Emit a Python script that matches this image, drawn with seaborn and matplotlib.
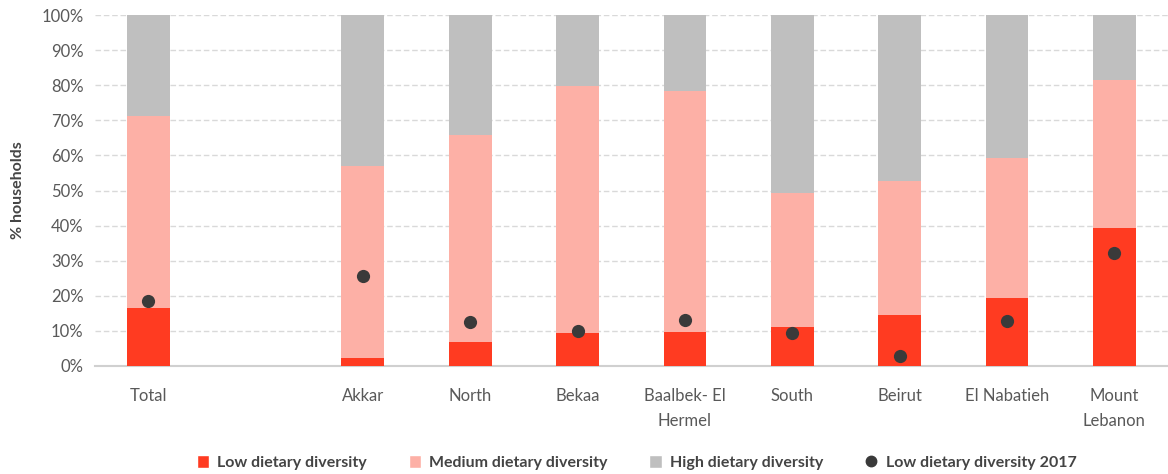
import numpy as np
import pandas as pd
import matplotlib
matplotlib.use("Agg")
import matplotlib.pyplot as plt
from matplotlib.patches import Patch
from matplotlib.lines import Line2D
from matplotlib.ticker import PercentFormatter
import seaborn as sns

# data
regions = ["Total", " ", "Akkar", "North", "Bekaa", "Baalbek- El\nHermel", "South",
           "Beirut", "El Nabatieh", "Mount\nLebanon"]
low = [16.5, np.nan, 2.4, 6.8, 9.5, 9.8, 11.2, 14.4, 19.3, 39.2]
medium = [54.8, np.nan, 54.7, 59.0, 70.2, 68.7, 38.0, 38.3, 40.1, 42.4]
high = [28.7, np.nan, 42.9, 34.2, 20.3, 21.5, 50.8, 47.3, 40.6, 18.4]
low_2017 = [18.4, np.nan, 25.6, 12.6, 10.1, 13.1, 9.5, 2.9, 12.7, 32.3]

c_low = "#FF3B21"
c_med = "#FDB0A6"
c_high = "#BFBFBF"
c_dot = "#3A3A3A"

df = pd.DataFrame({"region": regions, "low": low, "medium": medium,
                   "high": high, "low_2017": low_2017})
df["low_med"] = df["low"] + df["medium"]
df["all"] = df["low_med"] + df["high"]

sns.set_style("white")
plt.rcParams["font.family"] = ["Lato", "DejaVu Sans"]

fig = plt.figure(figsize=(11.68, 4.74), dpi=100)
ax = fig.add_axes([0.081, 0.228, 0.919, 0.74])

# stacked bars drawn as overlapping cumulative bars
for col, c, z in [("all", c_high, 2), ("low_med", c_med, 3), ("low", c_low, 4)]:
    sns.barplot(data=df, x="region", y=col, order=regions, color=c,
                width=0.4, saturation=1, linewidth=0, ax=ax, zorder=z)
sns.stripplot(data=df, x="region", y="low_2017", order=regions, color=c_dot,
              jitter=False, size=9.5, linewidth=0, ax=ax, zorder=5)

ax.set_xlim(-0.5, 9.5)
ax.set_ylim(0, 100)
ax.set_yticks(range(0, 101, 10))
ax.yaxis.set_major_formatter(PercentFormatter(decimals=0))
ax.grid(axis="y", color="#D9D9D9", linestyle=(0, (4, 2)), linewidth=1, zorder=0)
ax.set_axisbelow(True)
for s in ["top", "right", "left"]:
    ax.spines[s].set_visible(False)
ax.spines["bottom"].set_color("#D0D0D0")
ax.spines["bottom"].set_linewidth(1.5)

ax.tick_params(axis="both", length=0, labelsize=12, labelcolor="#595959")
ax.tick_params(axis="x", pad=16)
ax.tick_params(axis="y", pad=8)
for t in ax.get_xticklabels():
    t.set_linespacing(1.7)
    t.set_verticalalignment("top")
ax.set_xlabel("")
ax.set_ylabel("% households", fontsize=11.5, fontweight="bold", color="#444444",
              labelpad=12)

handles = [
    Patch(facecolor=c_low, label="Low dietary diversity"),
    Patch(facecolor=c_med, label="Medium dietary diversity"),
    Patch(facecolor=c_high, label="High dietary diversity"),
    Line2D([], [], marker="o", linestyle="none", color=c_dot, markersize=7.5,
           label="Low dietary diversity 2017"),
]
leg = fig.legend(handles=handles, loc="lower center", bbox_to_anchor=(0.545, -0.022),
                 ncol=4, frameon=False, handlelength=0.8, handleheight=0.8,
                 handletextpad=0.5, columnspacing=2.6,
                 prop={"size": 11.5, "weight": "bold"})
for t in leg.get_texts():
    t.set_color("#444444")

fig.savefig("out.png", dpi=100)
